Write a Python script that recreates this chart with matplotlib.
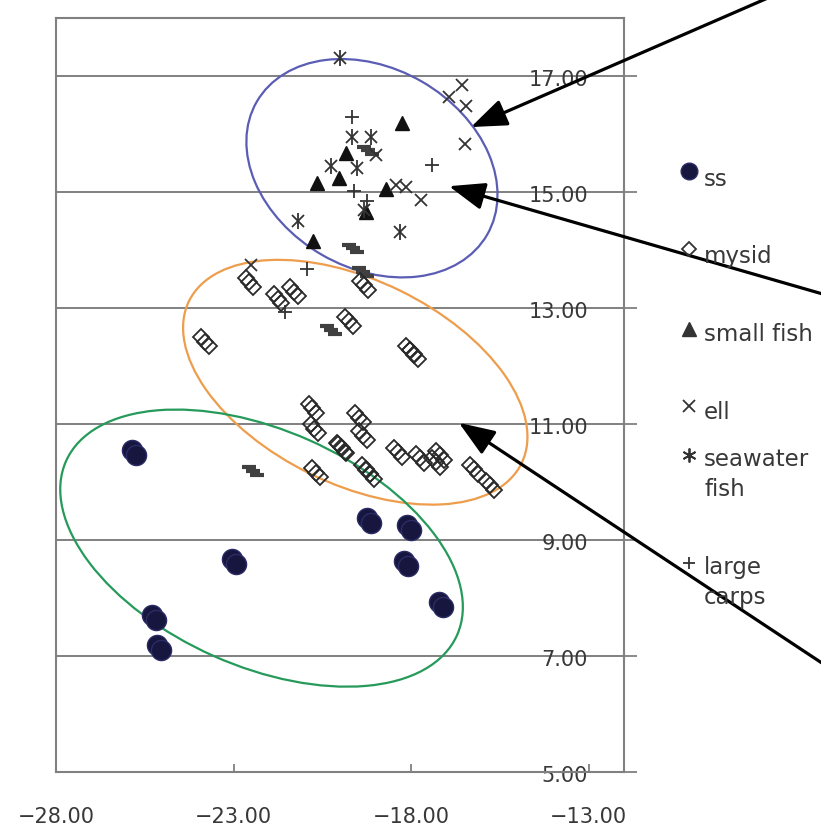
import matplotlib
matplotlib.use("Agg")
import matplotlib.pyplot as plt
import matplotlib.transforms as mtransforms
from matplotlib.patches import Ellipse
from matplotlib.lines import Line2D

plt.rcParams['font.family'] = ['DejaVu Sans']

# ---------------- data ----------------
ss_x = [-25.87, -23.03, -25.30, -25.16, -19.24, -18.11, -18.20, -17.21]
ss_y = [10.55, 8.67, 7.71, 7.19, 9.38, 9.26, 8.64, 7.93]

mysid_x = [-22.55, -21.76, -21.29, -19.74, -23.81, -19.32, -18.03, -17.92, -20.78, -20.72,
           -19.94, -19.97, -20.67, -19.46, -19.35, -19.26, -19.15, -18.37, -17.75, -17.19,
           -17.30, -16.23, -15.78]
mysid_y = [13.44, 13.16, 13.28, 12.77, 12.42, 13.39, 12.27, 12.20, 11.27, 10.92,
           10.58, 10.60, 10.16, 11.11, 10.80, 10.22, 10.13, 10.51, 10.41, 10.46,
           10.34, 10.22, 9.94]

small_fish_x = [-18.25, -19.83, -20.64, -20.02, -18.70, -19.26, -20.75]
small_fish_y = [16.19, 15.67, 15.16, 15.24, 15.05, 14.66, 14.16]

ell_x = [-16.57, -16.93, -16.45, -16.48, -18.98, -18.42, -18.14, -17.72, -22.52]
ell_y = [16.84, 16.64, 16.48, 15.83, 15.64, 15.12, 15.09, 14.86, 13.74]

seawater_x = [-19.99, -19.66, -19.12, -20.25, -19.52, -19.32, -21.17, -18.31]
seawater_y = [17.31, 15.95, 15.95, 15.45, 15.41, 14.69, 14.50, 14.31]

carps_x = [-19.66, -17.41, -19.60, -19.24, -20.92, -21.54]
carps_y = [16.29, 15.47, 15.02, 14.84, 13.67, 12.93]

other_x = [-22.44, -20.25, -19.35, -19.63, -19.21]
other_y = [10.19, 12.62, 13.62, 14.03, 15.72]

x_ticks = [-28, -23, -18, -13]
y_ticks = [5, 7, 9, 11, 13, 15, 17]
legend_labels = ["ss", "mysid", "small fish", "ell", "seawater\nfish", "large\ncarps"]

# group outlines: centre (data), width/height (px), angle (deg), colour
ellipses = [
    ((-19.10, 15.41), 266, 200, -30, "#5b5db4"),
    ((-19.57, 11.72), 370, 204, -26, "#ee9d4c"),
    ((-22.21, 8.86), 428, 236, -24, "#259a5a"),
]
# arrows: tip (data) and tail (figure px)
arrows = [
    ((-16.31, 16.12), (800, -16)),
    ((-16.93, 15.10), (840, 299)),
    ((-16.65, 11.02), (840, 675)),
]

# ---------------- figure ----------------
W, H, DPI = 821, 830, 100
fig = plt.figure(figsize=(W / DPI, H / DPI), dpi=DPI)
fig.patch.set_facecolor("white")
ax = fig.add_axes([56 / W, 1 - 772 / H, (624 - 56) / W, (772 - 18) / H])
ax.set_xlim(-28, -12)
ax.set_ylim(5, 18)

GRAY = "#808080"
TXT = "#383838"
for s in ax.spines.values():
    s.set_color(GRAY)
    s.set_linewidth(1.5)

ax.set_xticks(x_ticks)
ax.set_xticklabels([f"{v:.2f}".replace("-", "\u2212") for v in x_ticks])
ax.tick_params(axis="x", direction="in", length=6, width=1.3, color=GRAY,
               pad=25, labelsize=15, labelcolor=TXT)

ax.set_yticks(y_ticks)
ax.set_yticklabels([f"{v:.2f}" for v in y_ticks])
ax.tick_params(axis="y", left=False, right=True, labelleft=False, labelright=True,
               direction="out", length=9, width=1.3, color=GRAY,
               pad=-35, labelsize=15, labelcolor=TXT)
shift_down = mtransforms.ScaledTranslation(0, -4 / DPI, fig.dpi_scale_trans)
for tick in ax.yaxis.get_major_ticks():
    lab = tick.label2
    lab.set_horizontalalignment("right")
    lab.set_verticalalignment("center")
    lab.set_transform(lab.get_transform() + shift_down)
ax.yaxis.grid(True, color=GRAY, linewidth=1.4)
ax.set_axisbelow(True)


def off(dx, dy):
    """offset in pixels (screen y pointing down)"""
    return ax.transData + mtransforms.ScaledTranslation(dx / DPI, -dy / DPI, fig.dpi_scale_trans)


# ellipses (in pixel units)
for (cx, cy), w, h, ang, col in ellipses:
    tr = mtransforms.Affine2D() + mtransforms.ScaledTranslation(cx, cy, ax.transData)
    e = Ellipse((0, 0), w, h, angle=ang, transform=tr, fill=False,
                edgecolor=col, linewidth=1.6, zorder=2)
    ax.add_patch(e)

# unlabeled dash series
for d in (-4, 0, 4):
    ax.plot(other_x, other_y, ls="none", marker="_", ms=9.5, mew=3.0,
            color="#404040", transform=off(d, d * 0.9), zorder=3)

# mysid (stacked hollow diamonds)
for d in (-1, 0, 1):
    ax.plot(mysid_x, mysid_y, ls="none", marker="D", ms=7.8, mfc="none",
            mec="#2a2a2a", mew=1.3, transform=off(3.8 * d, 4.4 * d), zorder=4)

# ss (doubled dark circles)
for dx, dy in ((0, 0), (4, 5)):
    ax.plot(ss_x, ss_y, ls="none", marker="o", ms=14.5, mfc="#16163f",
            mec="#2c2c66", mew=1.0, transform=off(dx, dy), zorder=5)

ax.plot(small_fish_x, small_fish_y, ls="none", marker="^", ms=10,
        color="#111111", zorder=6)
ax.plot(ell_x, ell_y, ls="none", marker="x", ms=9, mew=1.3, color="#333333", zorder=6)
ax.plot(seawater_x, seawater_y, ls="none", marker="x", ms=9, mew=1.3, color="#333333", zorder=6)
ax.plot(seawater_x, seawater_y, ls="none", marker="|", ms=11, mew=1.3, color="#333333", zorder=6)
ax.plot(carps_x, carps_y, ls="none", marker="+", ms=10, mew=1.3, color="#333333", zorder=6)

# arrows
for (tx, ty), (px, py) in arrows:
    ax.annotate("", xy=(tx, ty), xycoords="data",
                xytext=(px / W, 1 - py / H), textcoords="figure fraction",
                arrowprops=dict(arrowstyle="-|>,head_length=1.1,head_width=0.42",
                                mutation_scale=20, lw=2.3, color="black",
                                shrinkA=0, shrinkB=0),
                annotation_clip=False, zorder=8)

# manual legend (Excel-like)
leg_marker_y = [171, 249, 329, 406, 455, 563]
leg_text_y = [180, 257, 335, 413, 460, 568]
leg_styles = [
    dict(marker="o", ms=12, mfc="#16163f", mec="#2c2c66", mew=1.0),
    dict(marker="D", ms=7, mfc="none", mec="#333333", mew=1.3),
    dict(marker="^", ms=9.5, color="#333333"),
    dict(marker="x", ms=8, mew=1.3, color="#333333"),
    dict(marker=(6, 2, 0), ms=10, mew=1.3, color="#333333"),
    dict(marker="+", ms=9, mew=1.3, color="#333333"),
]
for lab, my, ty, st in zip(legend_labels, leg_marker_y, leg_text_y, leg_styles):
    fig.add_artist(Line2D([689 / W], [1 - my / H], transform=fig.transFigure,
                          ls="none", **st))
    fig.text(704 / W, 1 - (ty - 12) / H, lab, ha="left", va="top",
             fontsize=16.5, color=TXT, linespacing=1.4)

fig.savefig("out.png", dpi=DPI, facecolor="white")
